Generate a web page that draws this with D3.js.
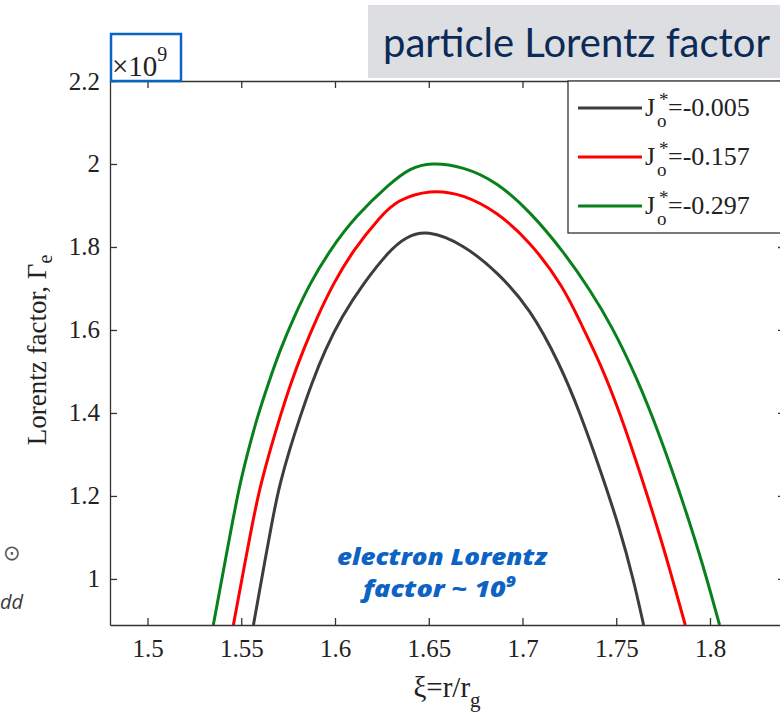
<!DOCTYPE html>
<html>
<head>
<meta charset="utf-8">
<script src="https://cdn.jsdelivr.net/npm/d3@7/dist/d3.min.js"></script>
<style>
  html, body { margin: 0; padding: 0; background: #fff; overflow: hidden; }
  svg { display: block; }
</style>
</head>
<body>
<svg id="chart" width="780" height="715"></svg>
<script>
// ---- data -------------------------------------------------------------
const xTickValues = [1.5, 1.55, 1.6, 1.65, 1.7, 1.75, 1.8];
const xTickLabels = ["1.5", "1.55", "1.6", "1.65", "1.7", "1.75", "1.8"];
const yTickValues = [1, 1.2, 1.4, 1.6, 1.8, 2, 2.2];
const yTickLabels = ["1", "1.2", "1.4", "1.6", "1.8", "2", "2.2"];

const legendValues = ["-0.005", "-0.157", "-0.297"];

// J*o = -0.005
const xiBlack    = [1.5565, 1.5668, 1.5707, 1.5757, 1.5814, 1.5876, 1.5947, 1.6036, 1.6152, 1.6294, 1.6374, 1.6490,
                    1.6685, 1.6863, 1.7041, 1.7201, 1.7308, 1.7415, 1.7521, 1.7592, 1.7646];
const gammaBlack = [0.889, 1.150, 1.231, 1.311, 1.391, 1.472, 1.552, 1.632, 1.713, 1.793, 1.823, 1.842,
                    1.806, 1.741, 1.652, 1.516, 1.399, 1.263, 1.118, 0.998, 0.889];

// J*o = -0.157
const xiRed    = [1.5458, 1.5565, 1.5606, 1.5654, 1.5707, 1.5764, 1.5831, 1.5906, 1.5992, 1.6098, 1.6241, 1.6330,
                  1.6508, 1.6685, 1.6863, 1.7041, 1.7219, 1.7317, 1.7415, 1.7521, 1.7628, 1.7735, 1.7806, 1.7868];
const gammaRed = [0.889, 1.150, 1.231, 1.311, 1.391, 1.472, 1.552, 1.632, 1.713, 1.793, 1.873, 1.913,
                  1.939, 1.927, 1.885, 1.813, 1.704, 1.610, 1.520, 1.399, 1.255, 1.102, 0.990, 0.889];

// J*o = -0.297
const xiGreen    = [1.5351, 1.5458, 1.5494, 1.5538, 1.5586, 1.5645, 1.5707, 1.5782, 1.5867, 1.5974, 1.6107, 1.6294,
                    1.6401, 1.6508, 1.6685, 1.6863, 1.7041, 1.7219, 1.7361, 1.7477, 1.7611, 1.7735, 1.7859, 1.7966, 1.8051];
const gammaGreen = [0.889, 1.150, 1.231, 1.311, 1.391, 1.472, 1.552, 1.632, 1.713, 1.793, 1.873, 1.954,
                    1.990, 2.004, 1.994, 1.957, 1.885, 1.789, 1.696, 1.609, 1.484, 1.343, 1.182, 1.029, 0.889];

// ---- styling ----------------------------------------------------------
const lineColors = ["#3d3d3d", "#ff0000", "#08801c"];
const serif = "'Liberation Serif', 'Times New Roman', serif";
const sans = "Lato, 'Open Sans', sans-serif";
const axisColor = "#333";
const textColor = "#222";

const svg = d3.select("#chart");

const plot = { left: 110, top: 81, right: 785, bottom: 625 };

const x = d3.scaleLinear().domain([1.48, 1.84]).range([plot.left, plot.right]);
const y = d3.scaleLinear().domain([0.889, 2.2]).range([plot.bottom, plot.top]);

// title banner
svg.append("rect")
  .attr("x", 368).attr("y", 5).attr("width", 420).attr("height", 73)
  .attr("fill", "#dcdee1");
svg.append("text")
  .attr("x", 383).attr("y", 57)
  .attr("font-family", sans).attr("font-size", 40)
  .attr("fill", "#0b2a55")
  .attr("textLength", 387).attr("lengthAdjust", "spacingAndGlyphs")
  .text("particle Lorentz factor");

// slide fragments at the left edge
svg.append("text")
  .attr("x", 3).attr("y", 560)
  .attr("font-family", "'DejaVu Sans', sans-serif").attr("font-size", 21)
  .attr("fill", "#555").text("⊙");
svg.append("text")
  .attr("x", 0).attr("y", 609)
  .attr("font-family", "'Open Sans', sans-serif").attr("font-style", "italic").attr("font-size", 20)
  .attr("fill", "#3a3a3a").text("dd");

// curves
svg.append("defs").append("clipPath").attr("id", "plotClip")
  .append("rect")
  .attr("x", plot.left).attr("y", plot.top)
  .attr("width", plot.right - plot.left).attr("height", plot.bottom - plot.top);

const series = [
  { xi: xiBlack, gamma: gammaBlack },
  { xi: xiRed, gamma: gammaRed },
  { xi: xiGreen, gamma: gammaGreen }
];

const line = d3.line()
  .x(d => x(d[0]))
  .y(d => y(d[1]))
  .curve(d3.curveBasis);

const curves = svg.append("g").attr("clip-path", "url(#plotClip)");
series.forEach((s, i) => {
  curves.append("path")
    .datum(d3.zip(s.xi, s.gamma))
    .attr("fill", "none")
    .attr("stroke", lineColors[i])
    .attr("stroke-width", 3)
    .attr("stroke-linejoin", "round")
    .attr("d", line);
});

// axes
function styleAxis(g) {
  g.attr("font-family", serif).attr("font-size", 25);
  g.select(".domain").attr("stroke", axisColor).attr("stroke-width", 1.3);
  g.selectAll(".tick line").attr("stroke", axisColor).attr("stroke-width", 1.3);
  g.selectAll(".tick text").attr("fill", textColor);
}

svg.append("g")
  .attr("transform", `translate(0,${plot.bottom})`)
  .call(d3.axisBottom(x).tickValues(xTickValues)
    .tickFormat((d, i) => xTickLabels[i])
    .tickSizeInner(-7).tickSizeOuter(0).tickPadding(14))
  .call(styleAxis);

svg.append("g")
  .attr("transform", `translate(0,${plot.top})`)
  .call(d3.axisTop(x).tickValues(xTickValues).tickSizeInner(-7).tickSizeOuter(0).tickFormat(""))
  .call(styleAxis);

svg.append("g")
  .attr("transform", `translate(${plot.left},0)`)
  .call(d3.axisLeft(y).tickValues(yTickValues)
    .tickFormat((d, i) => yTickLabels[i])
    .tickSizeInner(-7).tickSizeOuter(0).tickPadding(10))
  .call(styleAxis);

svg.append("g")
  .attr("transform", `translate(${plot.right},0)`)
  .call(d3.axisRight(y).tickValues(yTickValues).tickSizeInner(-7).tickSizeOuter(0).tickFormat(""))
  .call(styleAxis);

// exponent box
svg.append("rect")
  .attr("x", 111).attr("y", 34).attr("width", 70).attr("height", 47)
  .attr("fill", "none").attr("stroke", "#0a64c4").attr("stroke-width", 2.5);
const expo = svg.append("text")
  .attr("x", 112).attr("y", 76)
  .attr("font-family", serif).attr("font-size", 29).attr("fill", textColor);
expo.append("tspan").text("×10");
expo.append("tspan").attr("dy", -15).attr("font-size", 20).text("9");

// axis titles
const xt = svg.append("text")
  .attr("x", 447).attr("y", 697).attr("text-anchor", "middle")
  .attr("font-family", serif).attr("font-size", 29).attr("fill", textColor);
xt.append("tspan").text("ξ=r/r");
xt.append("tspan").attr("dy", 10).attr("font-size", 21).text("g");

const yt = svg.append("text")
  .attr("transform", "translate(46,350) rotate(-90)")
  .attr("text-anchor", "middle")
  .attr("font-family", serif).attr("font-size", 27).attr("fill", textColor);
yt.append("tspan").text("Lorentz factor, Γ");
yt.append("tspan").attr("dy", 6).attr("font-size", 20).text("e");

// annotation
const note = svg.append("g")
  .attr("font-family", "'Open Sans', Lato, sans-serif").attr("font-style", "italic").attr("font-weight", 800)
  .attr("font-size", 23).attr("fill", "#0c63c4");
note.append("text").attr("x", 337).attr("y", 565)
  .attr("textLength", 210).attr("lengthAdjust", "spacingAndGlyphs")
  .text("electron Lorentz");
const n2 = note.append("text").attr("x", 363).attr("y", 597)
  .attr("textLength", 153).attr("lengthAdjust", "spacingAndGlyphs");
n2.append("tspan").text("factor ~ 10");
n2.append("tspan").attr("dy", -10).attr("font-size", 15).text("9");

// legend
const legend = svg.append("g");
legend.append("rect")
  .attr("x", 568).attr("y", plot.top).attr("width", 230).attr("height", 152)
  .attr("fill", "#fff").attr("stroke", axisColor).attr("stroke-width", 1.3);
const rowY = d3.scalePoint().domain(legendValues).range([108, 206]);
legendValues.forEach((v, i) => {
  const cy = rowY(v);
  legend.append("line")
    .attr("x1", 578).attr("x2", 642).attr("y1", cy).attr("y2", cy)
    .attr("stroke", lineColors[i]).attr("stroke-width", 3);
  const t = legend.append("g").attr("font-family", serif).attr("fill", textColor);
  t.append("text").attr("x", 645).attr("y", cy + 8).attr("font-size", 26).text("J");
  t.append("text").attr("x", 659).attr("y", cy - 2).attr("font-size", 19).text("*");
  t.append("text").attr("x", 657).attr("y", cy + 19).attr("font-size", 19).text("o");
  t.append("text").attr("x", 668).attr("y", cy + 8).attr("font-size", 26).text("=" + v);
});
</script>
</body>
</html>
